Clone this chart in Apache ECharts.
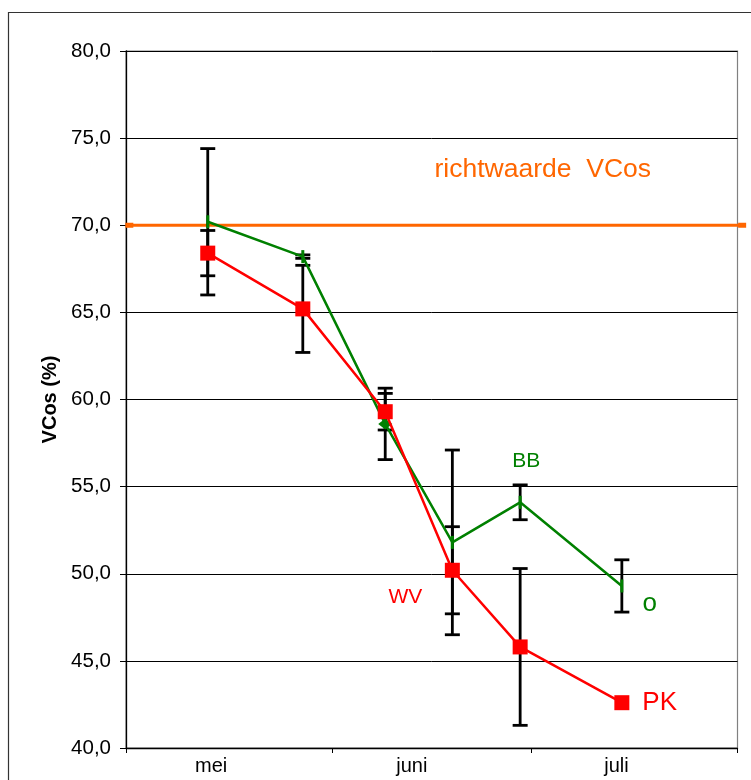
<!DOCTYPE html>
<html>
<head>
<meta charset="utf-8">
<script src="https://cdn.jsdelivr.net/npm/echarts@6/dist/echarts.min.js"></script>
<style>
  html, body { margin: 0; padding: 0; background: #fff; }
  #chart { width: 751px; height: 780px; }
</style>
</head>
<body>
<div id="chart"></div>
<script>
// Sampling moments, counted in days from 1 May
const sampleDays = [12.3, 26.6, 39.0, 49.1, 59.3, 74.6];

// PK (red) with its error margins
const pkValues = [68.4, 65.2, 59.3, 50.2, 45.8, 42.6];
const pkErrors = [1.3, 2.5, 1.05, 2.5, 4.5, 0];

// Green series (BB / o) with its error margins
const greenValues = [70.2, 68.2, 58.6, 51.8, 54.1, 49.3];
const greenErrors = [4.2, 0.1, 2.05, 5.3, 1.0, 1.5];

// Guide value line
const normDays = [0.5, 92.7];
const normValue = 70.0;

// Axis labelling
const monthLabels = ['mei', 'juni', 'juli'];
const monthLabelDays = [12.8, 43.0, 73.8];
const monthBoundaryDays = [0, 31, 61, 92];
const yMin = 40, yMax = 80, yStep = 5;

const FONT = '"Liberation Sans", Arial, sans-serif';

function errorBarData(values, errors) {
  const out = [];
  values.forEach((v, i) => {
    if (errors[i] > 0) out.push([sampleDays[i], v - errors[i], v + errors[i]]);
  });
  return out;
}

function renderErrorBar(params, api) {
  const x = api.value(0);
  const lo = api.coord([x, api.value(1)]);
  const hi = api.coord([x, api.value(2)]);
  const half = 7.5;
  const style = { stroke: '#000', lineWidth: 2.8 };
  return {
    type: 'group',
    children: [
      { type: 'line', shape: { x1: lo[0], y1: lo[1], x2: hi[0], y2: hi[1] }, style },
      { type: 'line', shape: { x1: lo[0] - half, y1: lo[1], x2: lo[0] + half, y2: lo[1] }, style },
      { type: 'line', shape: { x1: hi[0] - half, y1: hi[1], x2: hi[0] + half, y2: hi[1] }, style }
    ]
  };
}

const pkData = pkValues.map((v, i) => {
  const item = { value: [sampleDays[i], v] };
  if (i === 3) {
    item.label = { show: true, formatter: 'WV', position: 'inside', offset: [-47, 27],
      color: '#ff0000', fontSize: 21, fontFamily: FONT };
  }
  if (i === pkValues.length - 1) {
    item.label = { show: true, formatter: 'PK', position: 'right', distance: 13,
      color: '#ff0000', fontSize: 26, fontFamily: FONT };
  }
  return item;
});

const greenData = greenValues.map((v, i) => {
  const item = { value: [sampleDays[i], v], symbol: 'rect', symbolSize: [3, 13] };
  if (i === 2) { item.symbol = 'diamond'; item.symbolSize = [14, 11]; }
  if (i === 4) {
    item.label = { show: true, formatter: 'BB', position: 'inside', offset: [6, -41],
      color: '#008000', fontSize: 21, fontFamily: FONT };
  }
  if (i === greenValues.length - 1) {
    item.label = { show: true, formatter: 'o', position: 'inside', offset: [28, 18],
      color: '#008000', fontSize: 26, fontFamily: FONT };
  }
  return item;
});

const chart = echarts.init(document.getElementById('chart'), null, { renderer: 'canvas' });

chart.setOption({
  animation: false,
  backgroundColor: '#fff',
  textStyle: { fontFamily: FONT },
  graphic: [{
    type: 'rect',
    shape: { x: 8.5, y: 12.5, width: 900, height: 900 },
    style: { fill: 'none', stroke: '#333', lineWidth: 1.2 },
    z: -10, silent: true
  }],
  grid: {
    left: 126, right: 13.5, top: 51, bottom: 32,
    show: true, borderColor: '#808080', borderWidth: 1.2, backgroundColor: 'transparent'
  },
  xAxis: {
    type: 'value',
    min: 0, max: 92,
    axisLine: { show: true, onZero: false, lineStyle: { color: '#000', width: 1.3 } },
    axisTick: { show: true, customValues: monthBoundaryDays, length: 5, lineStyle: { color: '#000', width: 1 } },
    axisLabel: {
      customValues: monthLabelDays,
      formatter: v => monthLabels[monthLabelDays.indexOf(v)] || '',
      color: '#000', fontSize: 20, fontFamily: FONT, margin: 8
    },
    splitLine: { show: false }
  },
  yAxis: {
    type: 'value',
    min: yMin, max: yMax, interval: yStep,
    name: 'VCos (%)',
    nameLocation: 'middle',
    nameGap: 66,
    nameTextStyle: { fontSize: 20, fontWeight: 'bold', color: '#000', fontFamily: FONT },
    axisLine: { show: true, lineStyle: { color: '#000', width: 1.3 } },
    axisTick: { show: true, length: 6, lineStyle: { color: '#000', width: 1 } },
    axisLabel: {
      formatter: v => v.toFixed(1).replace('.', ','),
      color: '#000', fontSize: 20.5, fontFamily: FONT, margin: 15
    },
    splitLine: { show: true, lineStyle: { color: '#000', width: 1 } }
  },
  series: [
    {
      name: 'richtwaarde',
      type: 'line',
      data: normDays.map(d => [d, normValue]),
      clip: false,
      symbol: 'rect',
      symbolSize: [8, 5],
      lineStyle: { color: '#ff6600', width: 3 },
      itemStyle: { color: '#ff6600' },
      z: 2,
      markPoint: {
        symbol: 'rect',
        symbolSize: 0,
        data: [{ coord: [62.7, 73.2] }],
        label: {
          show: true, position: 'inside', formatter: 'richtwaarde  VCos',
          color: '#ff6600', fontSize: 26.5, fontFamily: FONT
        }
      }
    },
    {
      name: 'foutmarge',
      type: 'custom',
      renderItem: renderErrorBar,
      data: errorBarData(greenValues, greenErrors).concat(errorBarData(pkValues, pkErrors)),
      encode: { x: 0, y: [1, 2] },
      z: 3
    },
    {
      name: 'BB',
      type: 'line',
      data: greenData,
      lineStyle: { color: '#008000', width: 2.5 },
      itemStyle: { color: '#008000' },
      z: 4
    },
    {
      name: 'PK',
      type: 'line',
      data: pkData,
      symbol: 'rect',
      symbolSize: 15,
      lineStyle: { color: '#ff0000', width: 2.5 },
      itemStyle: { color: '#ff0000' },
      z: 5
    }
  ]
});
</script>
</body>
</html>
